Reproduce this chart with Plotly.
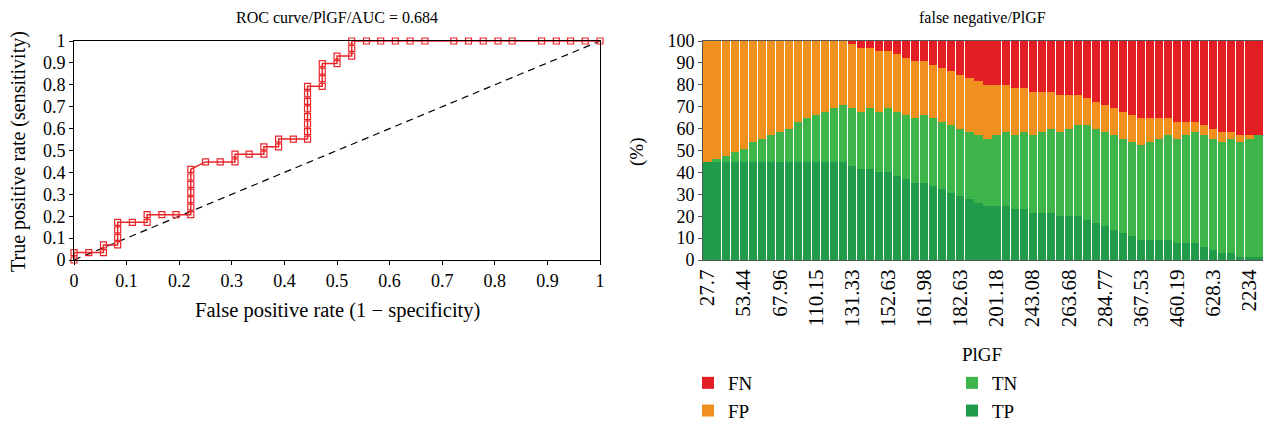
import plotly.graph_objects as go

# ---------------- data ----------------
# ROC curve points (false positive rate, true positive rate)
roc_fpr = [0, 0, 0.028, 0.056, 0.056, 0.083, 0.083, 0.083, 0.083, 0.111,
           0.139, 0.139, 0.167, 0.194, 0.222, 0.222, 0.222, 0.222, 0.222, 0.222,
           0.222, 0.250, 0.278, 0.306, 0.306, 0.333, 0.361, 0.361, 0.389, 0.389,
           0.417, 0.444, 0.444, 0.444, 0.444, 0.444, 0.444, 0.444, 0.444, 0.472,
           0.472, 0.472, 0.472, 0.500, 0.500, 0.528, 0.528, 0.528, 0.556, 0.583,
           0.611, 0.639, 0.667, 0.722, 0.750, 0.778, 0.806, 0.833, 0.889, 0.917,
           0.944, 0.972, 1.0]
roc_tpr = [0, 0.034, 0.034, 0.034, 0.069, 0.069, 0.103, 0.138, 0.172, 0.172,
           0.172, 0.207, 0.207, 0.207, 0.207, 0.241, 0.276, 0.310, 0.345, 0.379,
           0.414, 0.448, 0.448, 0.448, 0.483, 0.483, 0.483, 0.517, 0.517, 0.552,
           0.552, 0.552, 0.586, 0.621, 0.655, 0.690, 0.724, 0.759, 0.793, 0.793,
           0.828, 0.862, 0.897, 0.897, 0.931, 0.931, 0.966, 1.0, 1.0, 1.0,
           1.0, 1.0, 1.0, 1.0, 1.0, 1.0, 1.0, 1.0, 1.0, 1.0,
           1.0, 1.0, 1.0]
diag_x = [0, 1]
diag_y = [0, 1]

# Stacked bars: counts per threshold (total of 65 cases)
total_n = 65
tp_counts = [29, 29, 29, 29, 29, 29, 29, 29, 29, 29, 29, 29, 29, 29, 29, 29,
             28, 27, 27, 26, 26, 25, 24, 23, 23, 22, 21, 20, 19, 18, 17, 16,
             16, 16, 15, 15, 14, 14, 14, 13, 13, 13, 12, 11, 10, 9, 8, 7,
             6, 6, 6, 6, 5, 5, 5, 4, 3, 2, 2, 1, 1, 1]
tn_counts = [0, 1, 2, 3, 4, 6, 7, 8, 9, 10, 12, 13, 14, 15, 16, 17,
             17, 17, 18, 18, 19, 19, 19, 19, 20, 20, 20, 20, 20, 20, 20, 20,
             21, 22, 22, 23, 23, 24, 25, 25, 26, 27, 28, 28, 28, 28, 28, 28,
             28, 29, 30, 31, 31, 32, 33, 33, 33, 33, 34, 34, 35, 36]
fp_counts = [36, 35, 34, 33, 32, 30, 29, 28, 27, 26, 24, 23, 22, 21, 20, 19,
             19, 19, 18, 18, 17, 17, 17, 17, 16, 16, 16, 16, 16, 16, 16, 16,
             15, 14, 14, 13, 13, 12, 11, 11, 10, 9, 8, 8, 8, 8, 8, 8,
             8, 7, 6, 5, 5, 4, 3, 3, 3, 3, 2, 2, 1, 0]
fn_counts = [0, 0, 0, 0, 0, 0, 0, 0, 0, 0, 0, 0, 0, 0, 0, 0,
             1, 2, 2, 3, 3, 4, 5, 6, 6, 7, 8, 9, 10, 11, 12, 13,
             13, 13, 14, 14, 15, 15, 15, 16, 16, 16, 17, 18, 19, 20, 21, 22,
             23, 23, 23, 23, 24, 24, 24, 25, 26, 27, 27, 28, 28, 28]
bar_index = list(range(len(tp_counts)))
tick_positions = [0, 4, 8, 12, 16, 20, 24, 28, 32, 36, 40, 44, 48, 52, 56, 60]
tick_labels = ["27.7", "53.44", "67.96", "110.15", "131.33", "152.63", "161.98",
               "182.63", "201.18", "243.08", "263.68", "284.77", "367.53",
               "460.19", "628.3", "2234"]
roc_ticks = [0, 0.1, 0.2, 0.3, 0.4, 0.5, 0.6, 0.7, 0.8, 0.9, 1]
roc_tick_text = ["0", "0.1", "0.2", "0.3", "0.4", "0.5", "0.6", "0.7", "0.8", "0.9", "1"]

# ---------------- figure ----------------
# The figure is a little taller than the window; all content sits in the visible top 423 px.
FIG_W, FIG_H = 1263, 443
FONT = "Liberation Serif"


def px(x):
    return x / FIG_W


def py(y):
    return 1 - y / FIG_H


def pct(lst):
    return [v / total_n * 100 for v in lst]


fig = go.Figure()

fig.add_trace(go.Scatter(x=diag_x, y=diag_y, mode="lines",
                         line=dict(color="black", width=1.2, dash="7px,5px"),
                         showlegend=False, xaxis="x", yaxis="y", hoverinfo="skip"))
fig.add_trace(go.Scatter(x=roc_fpr, y=roc_tpr, mode="lines+markers",
                         line=dict(color="#e8262a", width=1.5),
                         marker=dict(symbol="square-open", size=6, color="#e8262a",
                                     line=dict(width=1.2, color="#e8262a")),
                         cliponaxis=False, showlegend=False, xaxis="x", yaxis="y"))

bar_specs = [
    ("TP", tp_counts, "#1f9b49", "legend2", 2),
    ("TN", tn_counts, "#3db54a", "legend2", 1),
    ("FP", fp_counts, "#f0911f", "legend", 2),
    ("FN", fn_counts, "#e31e25", "legend", 1),
]
for name, counts, color, leg, rank in bar_specs:
    fig.add_trace(go.Bar(x=bar_index, y=pct(counts), name=name,
                         marker=dict(color=color, line=dict(width=0)),
                         xaxis="x2", yaxis="y2", legend=leg, legendrank=rank,
                         legendgroup=name))

axis_font = dict(family=FONT, size=18, color="black")
rot_font = dict(family=FONT, size=21, color="black")
ydom = [py(260), py(41)]

fig.update_layout(
    width=FIG_W, height=FIG_H,
    margin=dict(l=0, r=0, t=0, b=0),
    paper_bgcolor="white", plot_bgcolor="white",
    font=dict(family=FONT, color="black"),
    barmode="stack", bargap=0.1,
    xaxis=dict(domain=[px(74), px(600)], range=[0, 1], tickvals=roc_ticks,
               ticktext=roc_tick_text, ticks="outside", ticklen=4, tickcolor="black",
               showline=True, linecolor="black", linewidth=1, mirror=True,
               showgrid=False, zeroline=False, tickfont=axis_font, anchor="y",
               automargin=False),
    yaxis=dict(domain=ydom, range=[0, 1], tickvals=roc_ticks, ticktext=roc_tick_text,
               ticks="outside", ticklen=4, tickcolor="black",
               showline=True, linecolor="black", linewidth=1, mirror=True,
               showgrid=False, zeroline=False, tickfont=axis_font, anchor="x",
               automargin=False),
    xaxis2=dict(domain=[px(703), 1.0], range=[-0.5, 61.5], tickvals=tick_positions,
                ticktext=tick_labels, tickangle=-90, ticks="",
                showline=True, linecolor="#555555", linewidth=1, mirror=True,
                showgrid=False, zeroline=False, tickfont=rot_font, anchor="y2",
                automargin=False),
    yaxis2=dict(domain=ydom, range=[0, 100], dtick=10, ticks="outside", ticklen=4,
                tickcolor="#555555", showline=True, linecolor="#555555", linewidth=1,
                showgrid=False, zeroline=False, tickfont=axis_font, anchor="x2",
                automargin=False),
    legend=dict(x=px(688), y=py(364), xanchor="left", yanchor="top",
                font=dict(family=FONT, size=19), traceorder="grouped",
                tracegroupgap=0, bgcolor="rgba(0,0,0,0)"),
    legend2=dict(x=px(952), y=py(364), xanchor="left", yanchor="top",
                 font=dict(family=FONT, size=19), traceorder="grouped",
                 tracegroupgap=0, bgcolor="rgba(0,0,0,0)"),
)

annotations = [
    dict(text="ROC curve/PlGF/AUC = 0.684", x=px(337), y=py(18), size=16, angle=0),
    dict(text="False positive rate (1 \u2212 specificity)", x=px(337), y=py(310), size=20.5, angle=0),
    dict(text="True positive rate (sensitivity)", x=px(18), y=py(152), size=20, angle=-90),
    dict(text="false negative/PlGF", x=px(982), y=py(18), size=16, angle=0),
    dict(text="(%)", x=px(637), y=py(152), size=19, angle=-90),
    dict(text="PlGF", x=px(982), y=py(354), size=19, angle=0),
]
for a in annotations:
    fig.add_annotation(text=a["text"], x=a["x"], y=a["y"], xref="paper", yref="paper",
                       xanchor="center", yanchor="middle", showarrow=False,
                       textangle=a["angle"], font=dict(family=FONT, size=a["size"], color="black"))

# remove the browser's default page margin so the figure fills the window exactly
page_fix = ("document.body.style.margin='0';"
            "document.documentElement.style.overflow='hidden';"
            "document.body.style.overflow='hidden';")
fig.write_html("out.html", post_script=page_fix, config={"displayModeBar": False})
